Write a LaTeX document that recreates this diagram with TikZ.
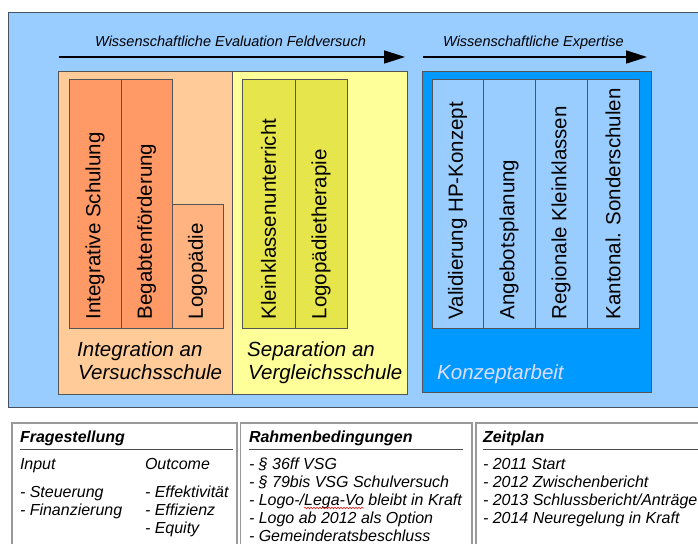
\documentclass[tikz,border=0pt]{standalone}
\usepackage{fontspec}
\setmainfont{Liberation Sans}
\usetikzlibrary{arrows.meta,decorations.pathmorphing}
\definecolor{bgblue}{HTML}{99CCFF}
\definecolor{outerline}{RGB}{70,82,98}
\definecolor{peach}{HTML}{FFCC99}
\definecolor{salmon}{HTML}{FF9966}
\definecolor{lightsalmon}{HTML}{FFB380}
\definecolor{lyellow}{HTML}{FFFF99}
\definecolor{ybar}{HTML}{E6E64C}
\definecolor{bblue}{HTML}{0099FF}
\definecolor{lav}{HTML}{DDDDFF}
\definecolor{barline}{RGB}{85,85,85}
\begin{document}
\begin{tikzpicture}[x=1pt,y=-1pt,
  box/.style={draw=barline, line width=0.8pt, anchor=north west, inner sep=0pt, outer sep=0pt},
  bar/.style={box, minimum height=249pt},
  vlab/.style={rotate=90, anchor=west, inner sep=0pt, font=\fontsize{20.5}{24}\selectfont},
  sublab/.style={anchor=base west, inner sep=0pt, font=\fontsize{20.5}{24}\selectfont\itshape},
  arrlab/.style={anchor=base west, inner sep=0pt, font=\fontsize{14.5}{17}\selectfont\itshape},
  arr/.style={line width=1.6pt, -{Triangle[length=21pt,width=13pt]}},
  bbox/.style={draw=gray!80, line width=1.3pt, fill=white, anchor=north west, inner sep=0pt, outer sep=0pt},
  rule/.style={draw=black!70, line width=0.8pt},
  btxt/.style={anchor=base west, inner sep=0pt, outer sep=0pt, font=\fontsize{16}{18}\selectfont\itshape},
  bhead/.style={btxt, font=\fontsize{16}{18}\selectfont\bfseries\itshape},
  wavy/.style={draw=red!85!black, line width=0.5pt, decorate, decoration={snake, amplitude=0.8pt, segment length=3pt}}
]
\useasboundingbox (0,0) rectangle (698,543);
\clip (0,0) rectangle (698,543);
\fill[white] (0,0) rectangle (698,543);

% outer blue panel
\node[box, draw=outerline, fill=bgblue, minimum width=700pt, minimum height=395pt] (outer) at (8,12) {};

% arrows
\coordinate (a1s) at (59,57);
\coordinate (a1e) at (405,57);
\draw[arr] (a1s) -- (a1e);
\node[arrlab] (a1l) at (95,46) {Wissenschaftliche Evaluation Feldversuch};
\coordinate (a2s) at (423,57);
\coordinate (a2e) at (647,57);
\draw[arr] (a2s) -- (a2e);
\node[arrlab] (a2l) at (443,46) {Wissenschaftliche Expertise};

% big boxes
\node[box, fill=peach, minimum width=174pt, minimum height=323pt] (orange) at (58,71) {};
\node[box, fill=lyellow, minimum width=175pt, minimum height=323pt] (yellow) at (232,71) {};
\node[box, fill=bblue, minimum width=229pt, minimum height=321pt] (konz) at (422,71) {};

% orange bars
\node[bar, fill=salmon, minimum width=52pt] (o1) at (69,79) {};
\node[bar, fill=salmon, minimum width=51pt] (o2) at (121,79) {};
\node[box, fill=lightsalmon, minimum width=51pt, minimum height=124pt] (o3) at (172,204) {};
\node[vlab] (lo1) at ([yshift=8.5pt]o1.south) {Integrative Schulung};
\node[vlab] (lo2) at ([yshift=8.5pt]o2.south) {Begabtenförderung};
\node[vlab] (lo3) at ([yshift=8.5pt]o3.south) {Logopädie};

% yellow bars
\node[bar, fill=ybar, minimum width=53pt] (y1) at (242,79) {};
\node[bar, fill=ybar, minimum width=52pt] (y2) at (295,79) {};
\node[vlab] (ly1) at ([yshift=8.5pt]y1.south) {Kleinklassenunterricht};
\node[vlab] (ly2) at ([yshift=8.5pt]y2.south) {Logopädietherapie};

% blue bars
\node[bar, fill=bgblue, minimum width=51pt] (b1) at (432,79) {};
\node[bar, fill=bgblue, minimum width=52pt] (b2) at (483,79) {};
\node[bar, fill=bgblue, minimum width=52pt] (b3) at (535,79) {};
\node[bar, fill=bgblue, minimum width=52pt] (b4) at (587,79) {};
\node[vlab] (lb1) at ([yshift=8.5pt]b1.south) {Validierung HP-Konzept};
\node[vlab] (lb2) at ([yshift=8.5pt]b2.south) {Angebotsplanung};
\node[vlab] (lb3) at ([yshift=8.5pt]b3.south) {Regionale Kleinklassen};
\node[vlab] (lb4) at ([yshift=8.5pt]b4.south) {Kantonal. Sonderschulen};

% sub labels
\node[sublab] (int1) at (77,356) {Integration an};
\node[sublab] (int2) at (78,379.5) {Versuchsschule};
\node[sublab] (sep1) at (247,356) {Separation an};
\node[sublab] (sep2) at (248,379.5) {Vergleichsschule};
\node[sublab, text=lav] (kon) at (437,379.5) {Konzeptarbeit};

% bottom boxes
\node[bbox, minimum width=225pt, minimum height=130pt] (fb) at (12,423) {};
\node[bbox, minimum width=231.5pt, minimum height=130pt] (rb) at (240.5,423) {};
\node[bbox, minimum width=240pt, minimum height=130pt] (zb) at (476,423) {};

% Fragestellung
\node[bhead] (fh) at (20,442.5) {Fragestellung};
\draw[rule] (20,449.5) -- (233,449.5);
\node[btxt] (fi) at (20,469.5) {Input};
\node[btxt] (fo) at (145,469.5) {Outcome};
\node[btxt] (fi1) at (20,497) {- Steuerung};
\node[btxt] (fi2) at (20,515) {- Finanzierung};
\node[btxt] (fo1) at (145,497) {- Effektivität};
\node[btxt] (fo2) at (145,515) {- Effizienz};
\node[btxt] (fo3) at (145,533) {- Equity};

% Rahmenbedingungen
\node[bhead] (rh) at (249,442.5) {Rahmenbedingungen};
\draw[rule] (249,449.5) -- (463,449.5);
\node[btxt] (r1) at (249,469.5) {- § 36ff VSG};
\node[btxt] (r2) at (249,487.5) {- § 79bis VSG Schulversuch};
\node[btxt] (r3a) at (249,505.5) {- Logo-/};
\node[btxt] (r3b) at (r3a.base east) {Lega-Vo};
\node[btxt] (r3c) at (r3b.base east) {\ bleibt in Kraft};
\draw[wavy] ([yshift=-2.5pt]r3b.base west) -- ([yshift=-2.5pt]r3b.base east);
\node[btxt] (r4) at (249,523.5) {- Logo ab 2012 als Option};
\node[btxt] (r5) at (249,541.5) {- Gemeinderatsbeschluss};

% Zeitplan
\node[bhead] (zh) at (483,442.5) {Zeitplan};
\draw[rule] (483,449.5) -- (700,449.5);
\node[btxt] (z1) at (483,469) {- 2011 Start};
\node[btxt] (z2) at (483,487) {- 2012 Zwischenbericht};
\node[btxt] (z3) at (483,505) {- 2013 Schlussbericht/Anträge};
\node[btxt] (z4) at (483,523) {- 2014 Neuregelung in Kraft};
\end{tikzpicture}
\end{document}
